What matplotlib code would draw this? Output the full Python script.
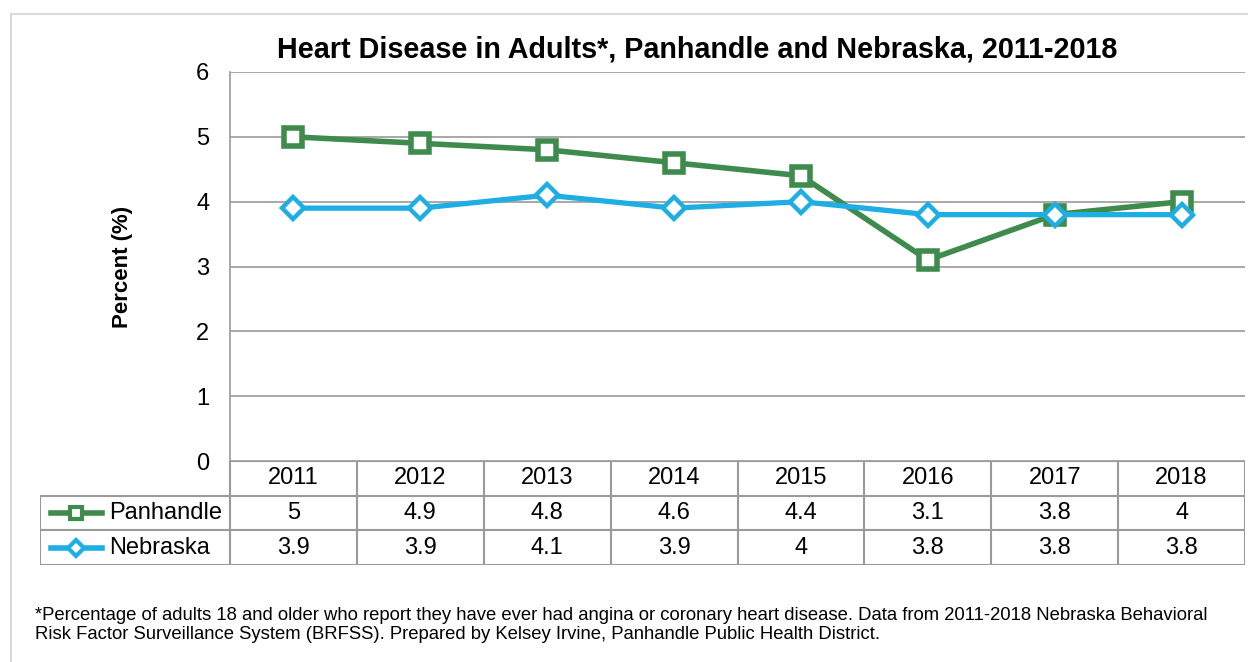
import matplotlib.pyplot as plt
from matplotlib.lines import Line2D
from matplotlib.patches import Rectangle

years = ["2011", "2012", "2013", "2014", "2015", "2016", "2017", "2018"]
panhandle = [5, 4.9, 4.8, 4.6, 4.4, 3.1, 3.8, 4]
nebraska = [3.9, 3.9, 4.1, 3.9, 4, 3.8, 3.8, 3.8]
series_names = ["Panhandle", "Nebraska"]

GREEN = "#3F8B4E"
BLUE = "#1FAEE4"
GRID = "#9A9A9A"

plt.rcParams["font.family"] = ["Liberation Sans", "DejaVu Sans"]

W, H = 1248, 662
fig = plt.figure(figsize=(W / 100, H / 100), dpi=100)

# outer chart border
fig.patches.append(Rectangle((11 / W, 1 - 700 / H), (1300 - 11) / W, (700 - 14) / H,
                             transform=fig.transFigure, fill=False,
                             edgecolor="#D9D9D9", linewidth=1.5))

left_px, right_px, top_px, bot_px = 230, 1245, 72, 461
ax = fig.add_axes([left_px / W, 1 - bot_px / H, (right_px - left_px) / W, (bot_px - top_px) / H])

x = list(range(len(years)))
ax.plot(x, panhandle, color=GREEN, lw=4, marker="s", markersize=12.5,
        markerfacecolor="white", markeredgecolor=GREEN, markeredgewidth=4, zorder=3)
ax.plot(x, nebraska, color=BLUE, lw=3.8, marker="D", markersize=11,
        markerfacecolor="white", markeredgecolor=BLUE, markeredgewidth=3.2, zorder=4)

ax.set_xlim(-0.5, len(years) - 0.5)
ax.set_ylim(0, 6)
ax.set_yticks(range(0, 7))
ax.tick_params(axis="y", length=0, labelsize=17, pad=15)
ax.set_xticks([])
ax.grid(axis="y", color=GRID, lw=1.2)
ax.set_axisbelow(True)
for s in ["top", "right", "bottom"]:
    ax.spines[s].set_visible(False)
ax.spines["left"].set_color(GRID)
ax.spines["left"].set_linewidth(1.2)
ax.set_ylabel("Percent (%)", fontsize=16, fontweight="bold", labelpad=45)

fig.text(697 / W, 1 - 50 / H, "Heart Disease in Adults*, Panhandle and Nebraska, 2011-2018",
         ha="center", va="center", fontsize=20.7, fontweight="bold")

# data table below the plot
tab_left, tab_top, tab_bot = 40, 461, 565
unit = (right_px - left_px) / len(years)
label_w = (left_px - tab_left) / unit
tax = fig.add_axes([tab_left / W, 1 - tab_bot / H, (right_px - tab_left) / W, (tab_bot - tab_top) / H])
tax.set_xlim(-0.5 - label_w, len(years) - 0.5)
tax.set_ylim(3, 0)
tax.axis("off")

lc = dict(color=GRID, lw=1.5)
tax.plot([-0.5, len(years) - 0.5], [0, 0], **lc)
for yy in [1, 2, 3]:
    tax.plot([-0.5 - label_w, len(years) - 0.5], [yy, yy], **lc)
for i in range(len(years) + 1):
    tax.plot([i - 0.5, i - 0.5], [0, 3], **lc)
tax.plot([-0.5 - label_w] * 2, [1, 3], **lc)

for i, yr in enumerate(years):
    tax.text(i, 0.5, yr, ha="center", va="center", fontsize=17)
for row, (vals, name, col, mk, ms) in enumerate(
        [(panhandle, series_names[0], GREEN, "s", 9), (nebraska, series_names[1], BLUE, "D", 8)]):
    yy = row + 1.5
    for i, v in enumerate(vals):
        tax.text(i, yy, f"{v:g}", ha="center", va="center", fontsize=17)
    x0 = -0.5 - label_w + 0.085
    tax.add_line(Line2D([x0, x0 + 0.4], [yy, yy], color=col, lw=4))
    tax.plot([x0 + 0.2], [yy], marker=mk, markersize=ms, markerfacecolor="white",
             markeredgecolor=col, markeredgewidth=3)
    tax.text(x0 + 0.46, yy, name, ha="left", va="center", fontsize=17)

fig.text(35 / W, 1 - 625 / H,
         "*Percentage of adults 18 and older who report they have ever had angina or coronary heart disease. "
         "Data from 2011-2018 Nebraska Behavioral\n"
         "Risk Factor Surveillance System (BRFSS). Prepared by Kelsey Irvine, Panhandle Public Health District.",
         ha="left", va="center", fontsize=13.3, linespacing=1.2)

fig.savefig("out.png", dpi=100)
